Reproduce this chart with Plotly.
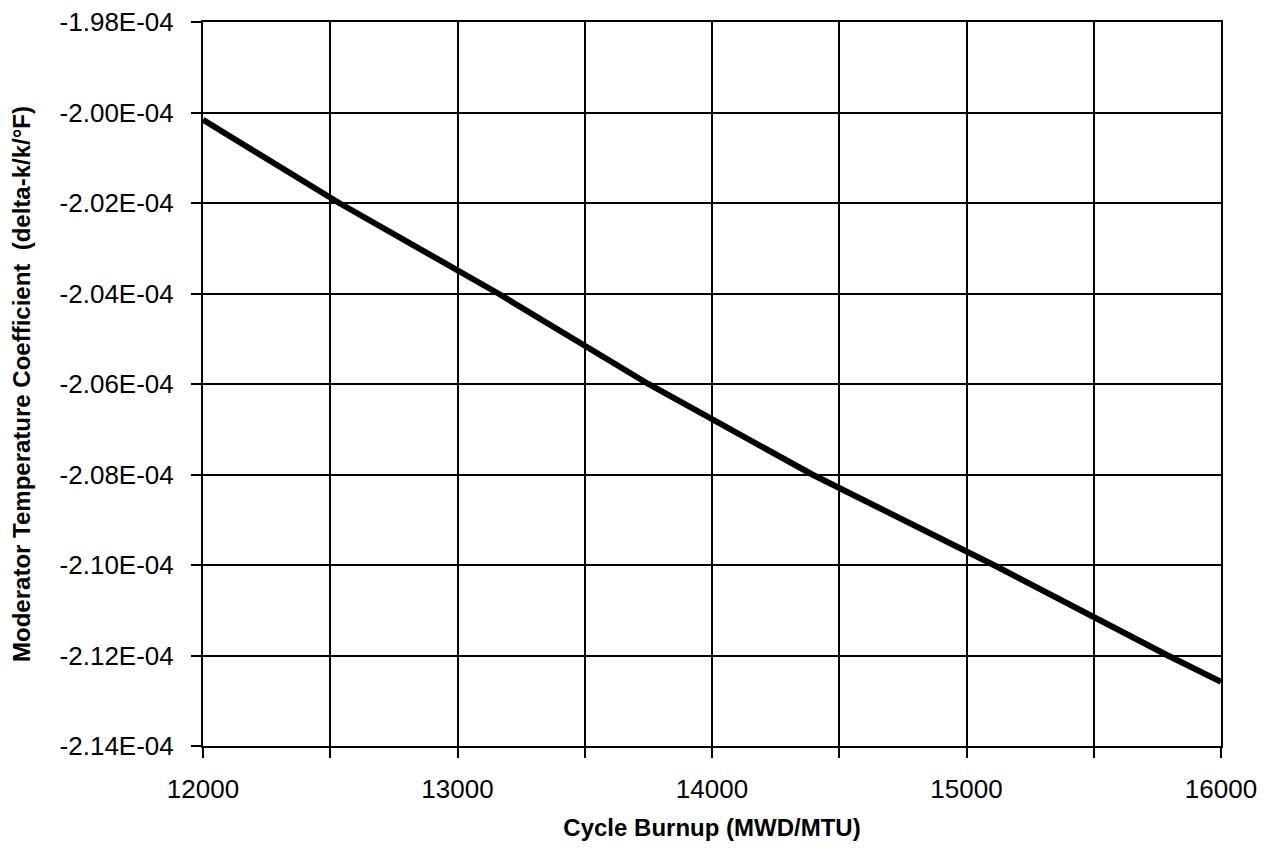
import plotly.graph_objects as go

# Data
burnup = [12000, 12535, 13160, 13750, 14394, 15107, 15791, 16000]
mtc = [-2.0016e-4, -2.02e-4, -2.04e-4, -2.06e-4, -2.08e-4, -2.10e-4, -2.12e-4, -2.1258e-4]

x_ticks = [12000, 12500, 13000, 13500, 14000, 14500, 15000, 15500, 16000]
x_ticklabels = ["12000", "", "13000", "", "14000", "", "15000", "", "16000"]
y_ticks = [-1.98e-4, -2.00e-4, -2.02e-4, -2.04e-4, -2.06e-4, -2.08e-4, -2.10e-4, -2.12e-4, -2.14e-4]
y_ticklabels = ["-1.98E-04", "-2.00E-04", "-2.02E-04", "-2.04E-04", "-2.06E-04",
                "-2.08E-04", "-2.10E-04", "-2.12E-04", "-2.14E-04"]

FONT = "Liberation Sans, Arial, sans-serif"

fig = go.Figure()
fig.add_trace(go.Scatter(
    x=burnup, y=mtc, mode="lines",
    line=dict(color="black", width=6),
    showlegend=False, hoverinfo="x+y",
))

fig.update_layout(
    width=1277, height=860,
    paper_bgcolor="white", plot_bgcolor="white",
    margin=dict(l=195, r=64, t=14, b=122),
    font=dict(family=FONT, color="black"),
)

fig.update_xaxes(
    range=[12000, 16000],
    tickvals=x_ticks, ticktext=x_ticklabels,
    tickfont=dict(size=26, family=FONT, color="black"),
    ticks="outside", ticklen=10, tickwidth=2, tickcolor="black",
    showgrid=True, gridcolor="black", gridwidth=2,
    showline=True, linecolor="black", linewidth=2, mirror=True,
    zeroline=False, automargin=False, ticklabeloverflow="allow",
    ticklabelstandoff=9,
    title=dict(text="<b>Cycle Burnup (MWD/MTU)</b>",
               font=dict(size=24, family=FONT, color="black"), standoff=16),
)

fig.update_yaxes(
    range=[-2.14e-4, -1.98e-4],
    tickvals=y_ticks, ticktext=y_ticklabels,
    tickfont=dict(size=26, family=FONT, color="black"),
    ticks="outside", ticklen=10, tickwidth=2, tickcolor="black",
    showgrid=True, gridcolor="black", gridwidth=2,
    showline=True, linecolor="black", linewidth=2, mirror=True,
    zeroline=False, automargin=False, ticklabeloverflow="allow",
    ticklabelstandoff=12,
    title=dict(text="<b>Moderator Temperature Coefficient  (delta-k/k/°F)</b>",
               font=dict(size=24, family=FONT, color="black"), standoff=26),
)

fig.write_html("out.html")
